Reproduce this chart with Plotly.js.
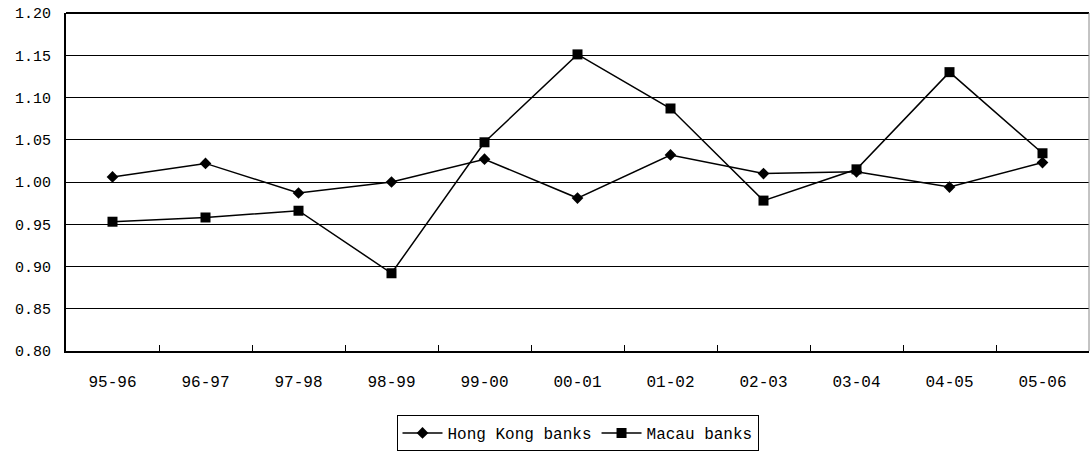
<!DOCTYPE html>
<html>
<head>
<meta charset="utf-8">
<script src="https://cdn.plot.ly/plotly-3.0.1.min.js"></script>
<style>
  html, body { margin: 0; padding: 0; background: #fff; }
  #chart { width: 1090px; height: 451px; }
</style>
</head>
<body>
<div id="chart"></div>
<script>
// Fiscal-year periods on the category axis
const periods = ["95-96", "96-97", "97-98", "98-99", "99-00", "00-01", "01-02", "02-03", "03-04", "04-05", "05-06"];

// Index values for each bank group
const hongKongBanks = [1.006, 1.022, 0.987, 1.000, 1.027, 0.981, 1.032, 1.010, 1.012, 0.994, 1.023];
const macauBanks    = [0.953, 0.958, 0.966, 0.892, 1.047, 1.151, 1.087, 0.978, 1.015, 1.130, 1.034];

// Y-axis tick values and their labels
const yTickVals = [0.80, 0.85, 0.90, 0.95, 1.00, 1.05, 1.10, 1.15, 1.20];
const yTickText = ["0.80", "0.85", "0.90", "0.95", "1.00", "1.05", "1.10", "1.15", "1.20"];

const FONT = "'Liberation Mono', 'DejaVu Sans Mono', monospace";

const traces = [
  {
    name: "Hong Kong banks",
    x: periods,
    y: hongKongBanks,
    type: "scatter",
    mode: "lines+markers",
    line: { color: "#000", width: 1.5 },
    marker: { symbol: "diamond", size: 9, color: "#000" }
  },
  {
    name: "Macau banks",
    x: periods,
    y: macauBanks,
    type: "scatter",
    mode: "lines+markers",
    line: { color: "#000", width: 1.5 },
    marker: { symbol: "square", size: 10, color: "#000" }
  }
];

const layout = {
  width: 1090,
  height: 451,
  margin: { l: 66, r: 1, t: 13, b: 99 },
  paper_bgcolor: "#fff",
  plot_bgcolor: "#fff",
  font: { family: FONT, size: 16, color: "#000" },
  showlegend: true,
  legend: {
    orientation: "h",
    x: 0.5,
    xanchor: "center",
    y: -0.186,
    yanchor: "top",
    bordercolor: "#000",
    borderwidth: 1,
    font: { family: FONT, size: 16, color: "#000" },
    itemwidth: 40
  },
  xaxis: {
    type: "category",
    range: [-0.5, 10.5],
    showgrid: false,
    zeroline: false,
    showline: true,
    linecolor: "#000",
    linewidth: 2,
    mirror: false,
    ticks: "inside",
    tickson: "boundaries",
    ticklen: 6,
    tickwidth: 1,
    tickcolor: "#000",
    tickfont: { family: FONT, size: 16, color: "#000" },
    ticklabelstandoff: 15,
    fixedrange: true
  },
  yaxis: {
    range: [0.80, 1.20],
    tickmode: "array",
    tickvals: yTickVals,
    ticktext: yTickText,
    showgrid: true,
    gridcolor: "#000",
    gridwidth: 1,
    zeroline: false,
    showline: true,
    linecolor: "#000",
    linewidth: 2,
    ticks: "",
    tickfont: { family: FONT, size: 15, color: "#000" },
    ticklabelstandoff: 10,
    fixedrange: true
  },
  shapes: [
    // top and right edges of the plotting frame
    { type: "line", xref: "paper", yref: "paper", x0: 0, x1: 1, y0: 1, y1: 1,
      line: { color: "#000", width: 2 } },
    { type: "line", xref: "paper", yref: "paper", x0: 1, x1: 1, y0: 0, y1: 1,
      line: { color: "#888", width: 1 } }
  ]
};

Plotly.newPlot("chart", traces, layout, { displayModeBar: false, staticPlot: true });
</script>
</body>
</html>
